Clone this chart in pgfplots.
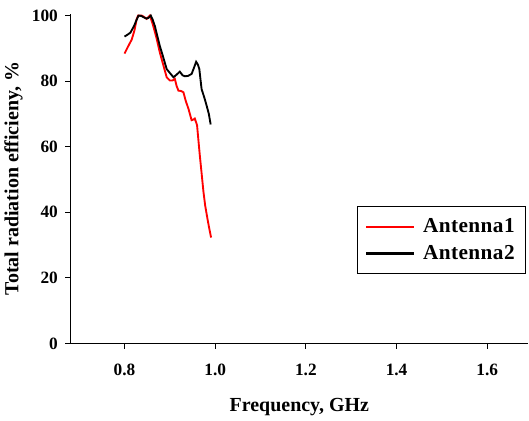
\documentclass[border={0pt 0pt 0pt 4pt}]{standalone}
\usepackage{pgfplots}
\pgfplotsset{compat=1.18}
\usepackage{fontspec}
\setmainfont{Liberation Serif}

\begin{document}
\begin{tikzpicture}
\begin{axis}[
    scale only axis,
    width=344pt, height=248pt,
    xmin=0.681, xmax=1.69,
    ymin=0, ymax=100.6,
    axis lines=left,
    axis line style={line width=1.4pt, -},
    xtick={0.8,1.0,1.2,1.4,1.6},
    ytick={0,20,40,60,80,100},
    tick align=outside,
    major tick length=4pt,
    tick style={line width=0.8pt, black},
    ticklabel style={font=\fontsize{13}{15}\selectfont\bfseries},
    xticklabel style={yshift=-8pt, /pgf/number format/.cd, fixed, fixed zerofill, precision=1},
    yticklabel style={xshift=-2pt},
    /pgf/number format/assume math mode=true,
    xlabel={Frequency, GHz},
    ylabel={Total radiation efficieny, \%},
    label style={font=\fontsize{15}{17}\selectfont\bfseries},
    xlabel style={yshift=-10pt},
    legend style={at={(0.625,0.416)}, anchor=north west, draw=black, line width=0.8pt,
        font=\fontsize{16}{18}\selectfont\bfseries\addfontfeatures{LetterSpace=2},
        inner xsep=6pt, inner ysep=7pt, row sep=4pt},
    legend cell align=left,
    legend image code/.code={\draw[#1, line width=1.6pt] (0pt,0pt) -- (36pt,0pt);},
    legend style={/tikz/every odd column/.append style={column sep=4pt}},
]
\addplot[red, line width=1.4pt] coordinates {
    (0.800,88.4) (0.808,90.6) (0.816,92.7) (0.822,95.5) (0.827,99.0) (0.830,100)
    (0.838,100) (0.843,99.6) (0.849,99.0) (0.853,99.6) (0.856,100) (0.862,97.5)
    (0.870,93.5) (0.878,88.7) (0.886,84.7) (0.893,81.2) (0.900,80.2) (0.906,80.2)
    (0.911,80.7) (0.915,78.5) (0.919,77.1) (0.925,77.0) (0.930,76.6) (0.935,74.0)
    (0.941,71.6) (0.948,68.1) (0.952,68.3) (0.955,68.6) (0.960,66.6) (0.963,62.0)
    (0.966,57.5) (0.970,52.0) (0.974,46.4) (0.978,42.0) (0.983,38.0) (0.987,35.0)
    (0.991,32.3)
};
\addlegendentry{Antenna1}
\addplot[black, line width=1.4pt] coordinates {
    (0.800,93.6) (0.807,94.2) (0.813,94.8) (0.821,96.8) (0.826,98.5) (0.831,100)
    (0.837,99.9) (0.842,99.5) (0.848,99.1) (0.853,99.3) (0.858,100) (0.862,98.8)
    (0.867,96.8) (0.872,94.0) (0.878,90.7) (0.885,87.5) (0.893,83.7) (0.900,82.5)
    (0.908,81.2) (0.915,82.0) (0.922,82.9) (0.928,81.8) (0.933,81.5) (0.940,81.6)
    (0.948,82.2) (0.953,84.0) (0.958,85.9) (0.962,85.0) (0.965,83.7) (0.970,77.6)
    (0.976,75.0) (0.981,72.6) (0.986,70.0) (0.990,66.8)
};
\addlegendentry{Antenna2}
\end{axis}
\end{tikzpicture}
\end{document}
